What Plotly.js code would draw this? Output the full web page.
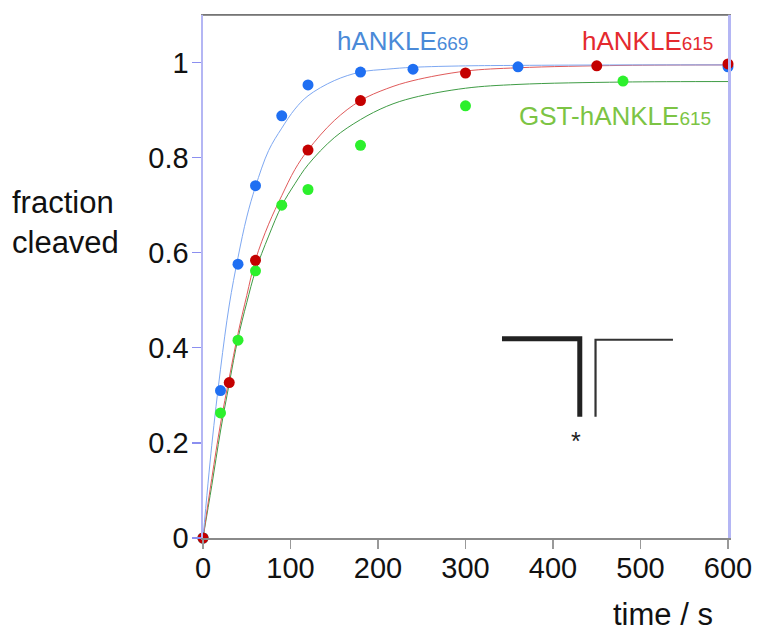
<!DOCTYPE html>
<html>
<head>
<meta charset="utf-8">
<script src="https://cdn.plot.ly/plotly-3.0.1.min.js"></script>
<style>html,body{margin:0;padding:0;background:#fff;}#chart{width:758px;height:632px;}</style>
</head>
<body>
<div id="chart"></div>
<script>
// Measured points (time in s, fraction cleaved)
var t669 = [0, 20, 40, 60, 90, 120, 180, 240, 360, 600];
var f669 = [0, 0.31, 0.576, 0.741, 0.888, 0.953, 0.980, 0.986, 0.991, 0.991];
var t615 = [0, 30, 60, 120, 180, 300, 450, 600];
var f615 = [0, 0.327, 0.584, 0.816, 0.920, 0.978, 0.993, 0.997];
var tGst = [0, 20, 40, 60, 90, 120, 180, 300, 480];
var fGst = [0, 0.263, 0.416, 0.562, 0.70, 0.733, 0.826, 0.909, 0.961];

// Fitted curves
var tFit = [0, 10, 20, 30, 40, 50, 60, 75, 90, 105, 120, 150, 180, 210, 240, 300, 360, 480, 600];
var fit669 = [0, 0.195, 0.355, 0.49, 0.59, 0.675, 0.739, 0.815, 0.862, 0.902, 0.930, 0.962, 0.980, 0.986, 0.990, 0.993, 0.994, 0.995, 0.995];
var fit615 = [0, 0.125, 0.24, 0.337, 0.43, 0.51, 0.585, 0.66, 0.72, 0.775, 0.816, 0.878, 0.920, 0.945, 0.962, 0.982, 0.989, 0.994, 0.995];
var fitGst = [0, 0.11, 0.225, 0.325, 0.42, 0.495, 0.562, 0.635, 0.699, 0.745, 0.785, 0.842, 0.880, 0.908, 0.926, 0.946, 0.954, 0.959, 0.96];

var xTicks = [0, 100, 200, 300, 400, 500, 600];
var yTicks = [0, 0.2, 0.4, 0.6, 0.8, 1];
var yTickText = ['0', '0.2', '0.4', '0.6', '0.8', '1'];

var FONT = 'Liberation Sans, Arial, sans-serif';

function fitTrace(y, color) {
  return {x: tFit, y: y, type: 'scatter', mode: 'lines',
    line: {color: color, width: 1, shape: 'spline', smoothing: 1},
    hoverinfo: 'skip', showlegend: false, cliponaxis: false};
}
function ptTrace(x, y, color, name) {
  return {x: x, y: y, type: 'scatter', mode: 'markers', name: name,
    marker: {color: color, size: 11, line: {width: 0}},
    showlegend: false, cliponaxis: false};
}

var data = [
  fitTrace(fitGst, '#3f9c45'),
  fitTrace(fit615, '#e05a5a'),
  fitTrace(fit669, '#7ea8f2'),
  ptTrace(tGst, fGst, '#2cf02c', 'GST-hANKLE615'),
  ptTrace(t669, f669, '#1f6ff2', 'hANKLE669'),
  ptTrace(t615, f615, '#c40000', 'hANKLE615')
];

var layout = {
  width: 758, height: 632,
  margin: {l: 203, r: 30, t: 15, b: 93.5, pad: 0},
  paper_bgcolor: '#ffffff', plot_bgcolor: '#ffffff',
  font: {family: FONT, size: 29, color: '#111'},
  showlegend: false,
  xaxis: {
    range: [0, 600], tickvals: xTicks, ticktext: xTicks.map(String),
    showgrid: false, zeroline: false,
    showline: true, linecolor: '#8a8a8a', linewidth: 1.5, mirror: true,
    ticks: 'outside', ticklen: 9, tickcolor: '#999', tickwidth: 1.2,
    ticklabelstandoff: -5,
    tickfont: {family: FONT, size: 29, color: '#111'}
  },
  yaxis: {
    range: [0, 1.1], tickvals: yTicks, ticktext: yTickText,
    showgrid: false, zeroline: false,
    showline: true, linecolor: '#b4b6f4', linewidth: 2.5, mirror: true,
    ticks: 'outside', ticklen: 9, tickcolor: '#8b8ff0', tickwidth: 1.2,
    ticklabelstandoff: -3,
    tickfont: {family: FONT, size: 29, color: '#111'}
  },
  shapes: [
    {type: 'line', xref: 'paper', yref: 'paper', x0: 0, x1: 1, y0: 1, y1: 1,
     line: {color: '#6e6e6e', width: 1.5}},
    {type: 'path', xref: 'x', yref: 'y',
     path: 'M 341.7,0.419 L 430.6,0.419 L 430.6,0.255',
     line: {color: '#222', width: 5}},
    {type: 'path', xref: 'x', yref: 'y',
     path: 'M 448.6,0.255 L 448.6,0.417 L 537.1,0.417',
     line: {color: '#333', width: 2.2}}
  ],
  annotations: [
    {xref: 'x', yref: 'y', x: 151, y: 1.046, xanchor: 'left', yanchor: 'middle', showarrow: false,
     text: 'hANKLE<span style="font-size:19px">669</span>', font: {family: FONT, size: 26, color: '#4a8ad8'}},
    {xref: 'x', yref: 'y', x: 431, y: 1.046, xanchor: 'left', yanchor: 'middle', showarrow: false,
     text: 'hANKLE<span style="font-size:19px">615</span>', font: {family: FONT, size: 26, color: '#e42a2e'}},
    {xref: 'x', yref: 'y', x: 359, y: 0.888, xanchor: 'left', yanchor: 'middle', showarrow: false,
     text: 'GST-hANKLE<span style="font-size:19px">615</span>', font: {family: FONT, size: 26, color: '#7cc444'}},
    {xref: 'x', yref: 'y', x: 426, y: 0.205, xanchor: 'center', yanchor: 'middle', showarrow: false,
     text: '*', font: {family: FONT, size: 25, color: '#222'}},
    {xref: 'paper', yref: 'paper', x: -0.368, y: 0.604, xanchor: 'left', yanchor: 'middle', showarrow: false,
     align: 'left', text: 'fraction<br>cleaved', font: {family: FONT, size: 31, color: '#111'}},
    {xref: 'paper', yref: 'paper', x: 0.975, y: -0.146, xanchor: 'right', yanchor: 'middle', showarrow: false,
     text: 'time / s', font: {family: FONT, size: 31, color: '#111'}}
  ]
};

Plotly.newPlot('chart', data, layout, {displayModeBar: false, staticPlot: true});
</script>
</body>
</html>
